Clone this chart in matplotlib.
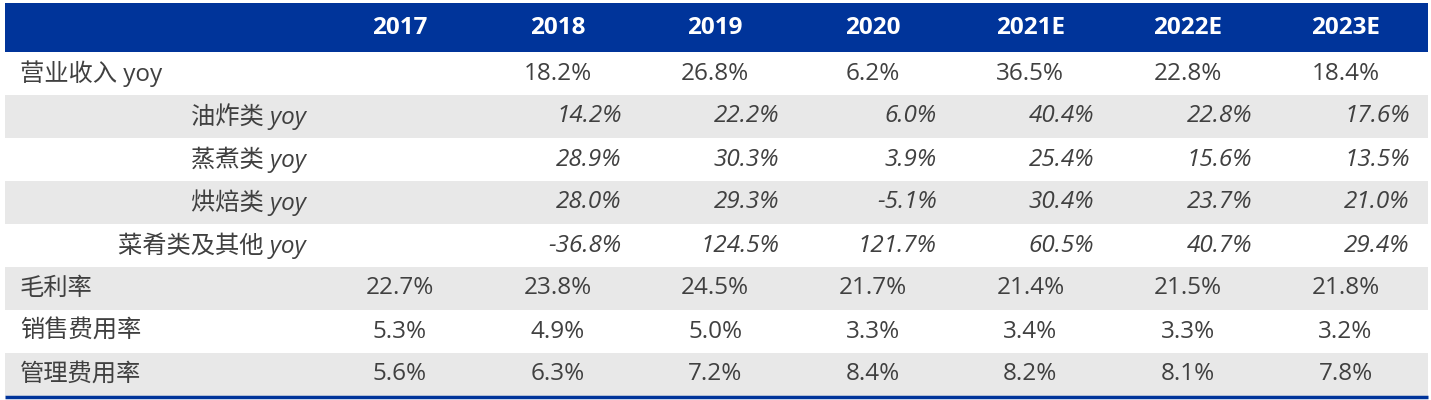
import matplotlib
matplotlib.use('Agg')
import matplotlib.pyplot as plt
from matplotlib.patches import Rectangle

plt.rcParams['font.family'] = ['Open Sans', 'Noto Sans CJK SC', 'DejaVu Sans']

years = ['2017', '2018', '2019', '2020', '2021E', '2022E', '2023E']
row_labels = ['营业收入 yoy', '油炸类 yoy', '蒸煮类 yoy', '烘焙类 yoy', '菜肴类及其他 yoy',
              '毛利率', '销售费用率', '管理费用率']
italic_rows = [False, True, True, True, True, False, False, False]

revenue_yoy = ['', '18.2%', '26.8%', '6.2%', '36.5%', '22.8%', '18.4%']
fried_yoy = ['', '14.2%', '22.2%', '6.0%', '40.4%', '22.8%', '17.6%']
steamed_yoy = ['', '28.9%', '30.3%', '3.9%', '25.4%', '15.6%', '13.5%']
baked_yoy = ['', '28.0%', '29.3%', '-5.1%', '30.4%', '23.7%', '21.0%']
dishes_yoy = ['', '-36.8%', '124.5%', '121.7%', '60.5%', '40.7%', '29.4%']
gross_margin = ['22.7%', '23.8%', '24.5%', '21.7%', '21.4%', '21.5%', '21.8%']
selling_ratio = ['5.3%', '4.9%', '5.0%', '3.3%', '3.4%', '3.3%', '3.2%']
admin_ratio = ['5.6%', '6.3%', '7.2%', '8.4%', '8.2%', '8.1%', '7.8%']
table = [revenue_yoy, fried_yoy, steamed_yoy, baked_yoy, dishes_yoy,
         gross_margin, selling_ratio, admin_ratio]

blue = '#00349a'
gray = '#e8e8e8'
txt = '#404040'

W, H = 1431, 400
fig = plt.figure(figsize=(W / 100, H / 100), dpi=100)
ax = fig.add_axes([0, 0, 1, 1])
ax.set_xlim(0, W)
ax.set_ylim(H, 0)
ax.axis('off')

left, right = 5, 1428
head_top, head_bot = 3, 52
row_h = 43
col0, col_step = 400, 157.6
fs = 17.5

# header band
ax.add_patch(Rectangle((left, head_top), right - left, head_bot - head_top, color=blue, lw=0))
for i, y in enumerate(years):
    ax.text(col0 + i * col_step, (head_top + head_bot) / 2, y, ha='center', va='center',
            color='white', fontsize=fs, fontweight='bold')

for r, (label, vals) in enumerate(zip(row_labels, table)):
    y0 = head_bot + r * row_h
    yc = y0 + row_h / 2
    if r % 2 == 1:
        ax.add_patch(Rectangle((left, y0), right - left, row_h, color=gray, lw=0))
    if italic_rows[r]:
        ax.text(306, yc, label, ha='right', va='center', color=txt, fontsize=fs, style='italic')
        for i, v in enumerate(vals):
            ax.text(col0 + i * col_step + 64, yc, v, ha='right', va='center', color=txt,
                    fontsize=fs, style='italic')
    else:
        ax.text(20, yc, label, ha='left', va='center', color=txt, fontsize=fs)
        for i, v in enumerate(vals):
            ax.text(col0 + i * col_step, yc, v, ha='center', va='center', color=txt, fontsize=fs)

bottom = head_bot + len(row_labels) * row_h
ax.plot([left, right], [bottom + 1, bottom + 1], color=blue, lw=2.5, solid_capstyle='butt')

fig.savefig('out.png', dpi=100)
